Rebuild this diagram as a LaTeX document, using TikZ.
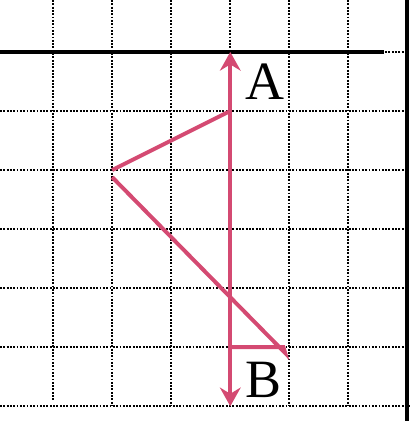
\documentclass[tikz,border=0pt]{standalone}
\usepackage{fontspec}
\setmainfont{Liberation Serif}
\usepackage{tikz}
\usetikzlibrary{arrows.meta,positioning}
\definecolor{pinkline}{RGB}{212,74,114}

\begin{document}
\begin{tikzpicture}[x=1cm,y=1cm]%
\useasboundingbox (-3.9,0.88) rectangle (3.07,-6.25);
\begin{scope}[dash pattern=on .9pt off .7pt,line width=.9pt]%
\draw (-3,0.88)--(-3,-5.9); %%
\draw (-2,0.88)--(-2,-6); %%
\draw (-1,0.88)--(-1,-6); %%
\draw (0,0.88)--(0,-6); %%
\draw (1,0.88)--(1,-6); %%
\draw (2,0.88)--(2,-6); %%
\draw (-3.9,0)--(2.97,0); %%
\draw (-3.9,-1)--(2.97,-1); %%
\draw (-3.9,-2)--(2.97,-2); %%
\draw (-3.9,-3)--(2.97,-3); %%
\draw (-3.9,-4)--(2.97,-4); %%
\draw (-3.9,-5)--(2.97,-5); %%
\draw (-3.9,-6)--(3.07,-6); %%
\end{scope}
\draw[line width=1.6pt] (-3.9,0)--(2.6,0); %%
\draw[line width=2pt] (2.99,0.88)--(2.99,-6.25); %%
\begin{scope}[pinkline,line width=1.9pt]%
\coordinate (top) at (0,0); %%
\coordinate (bot) at (0,-6); %%
\coordinate (p1) at (0,-1); %%
\coordinate (p2) at (-2,-2); %%
\coordinate (p3) at (-2,-2.12); %%
\coordinate (p4) at (0.93,-5.1); %%
\coordinate (p5) at (0.9,-5); %%
\coordinate (p6) at (0,-5); %%
\draw[{Stealth[length=9pt,width=10pt,inset=3pt]}-{Stealth[length=9pt,width=10pt,inset=3pt]}] (top)--(bot); %%
\draw (p1)--(p2); %%
\draw (p3)--(p4)--(p5)--(p6); %%
\end{scope}
\node[font=\fontsize{26}{26}\selectfont] (A) at (0.58,-0.5) {A}; %%
\node[font=\fontsize{26}{26}\selectfont] (B) at (0.56,-5.56) {B}; %%
\end{tikzpicture}
\end{document}
